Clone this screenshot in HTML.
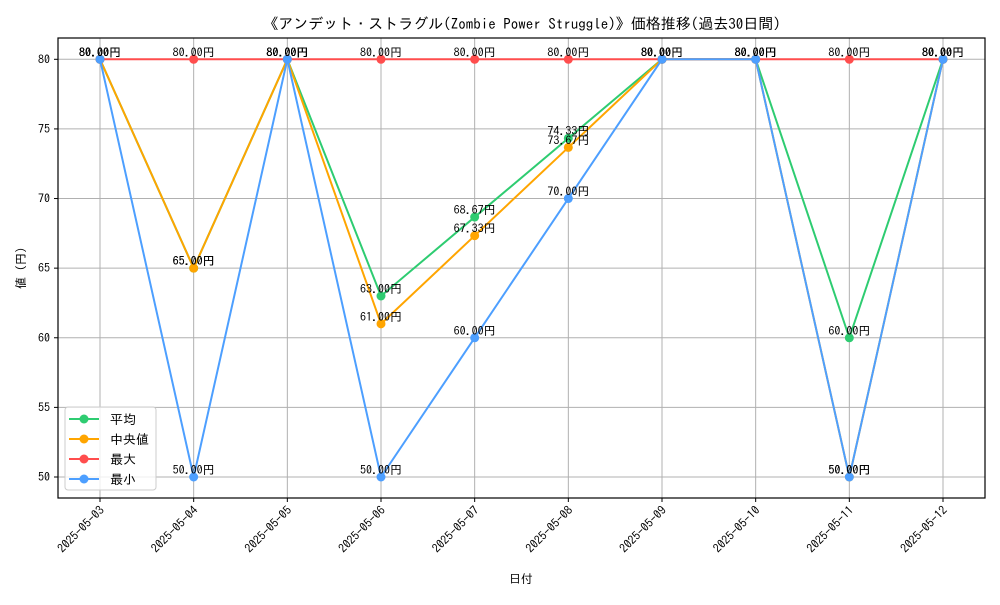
<!DOCTYPE html>
<html><head><meta charset="utf-8"><style>
body{margin:0;background:#fff}
svg text{font-family:"IPAGothic","Liberation Sans","Noto Sans CJK JP",sans-serif}
</style></head><body>
<svg id="chart" width="1000" height="600" xmlns="http://www.w3.org/2000/svg">
<rect width="1000" height="600" fill="#fff"/>
<text x="522" y="29" font-size="15" text-anchor="middle">《アンデット・ストラグル(Zombie Power Struggle)》価格推移(過去30日間)</text>
<g id="grid"></g>
<g id="series"></g>
<g id="labels"></g>
<rect x="58" y="38" width="927" height="460" fill="none" stroke="#000" stroke-width="1.2"/>
<g id="ticks"></g>
<text x="521" y="583" font-size="12" text-anchor="middle">日付</text>
<text transform="translate(25,268) rotate(-90)" font-size="12" text-anchor="middle">値 (円)</text>
<g id="legend"></g>
</svg>
<script>
const categories=["2025-05-03","2025-05-04","2025-05-05","2025-05-06","2025-05-07","2025-05-08","2025-05-09","2025-05-10","2025-05-11","2025-05-12"];
const avgValues=[80,65,80,63,68.67,74.33,80,80,60,80];
const medianValues=[80,65,80,61,67.33,73.67,80,80,50,80];
const maxValues=[80,80,80,80,80,80,80,80,80,80];
const minValues=[80,50,80,50,60,70,80,80,50,80];
const yTicks=[50,55,60,65,70,75,80];
const seriesNames=["平均","中央値","最大","最小"];
const seriesColors=["#2ecc71","#ffa500","#ff4d4d","#4d9fff"];
const seriesData=[avgValues,medianValues,maxValues,minValues];
const NS="http://www.w3.org/2000/svg";
const xS=i=>100+i*(943-100)/(categories.length-1);
const yS=v=>477-(v-50)*(477-59.3)/30;
function mk(tag,attrs,parent){const e=document.createElementNS(NS,tag);for(const k in attrs)e.setAttribute(k,attrs[k]);document.getElementById(parent)?.appendChild(e)||parent.appendChild(e);return e;}
const grid=document.getElementById('grid'),ticks=document.getElementById('ticks');
categories.forEach((c,i)=>{
 const g=mk('line',{x1:xS(i),x2:xS(i),y1:38,y2:498,stroke:'#b0b0b0','stroke-width':1},grid);
 
 
 const t=mk('line',{x1:xS(i),x2:xS(i),y1:498,y2:502,stroke:'#000'},ticks);
 
 
 const l=mk('text',{x:0,y:0,'font-size':12,'text-anchor':'end',transform:`translate(${xS(i)+5},${511}) rotate(-45)`},ticks);
 l.textContent=c;
 
 
});
yTicks.forEach(v=>{
 const g=mk('line',{x1:58,x2:985,y1:yS(v),y2:yS(v),stroke:'#b0b0b0','stroke-width':1},grid);
 
 
 const t=mk('line',{x1:54,x2:58,y1:yS(v),y2:yS(v),stroke:'#000'},ticks);
 
 
 const l=mk('text',{x:50,y:yS(v)+4,'font-size':12,'text-anchor':'end'},ticks);
 l.textContent=v;
 
 
});
const sg=document.getElementById('series'),lg=document.getElementById('labels');
seriesData.forEach((d,s)=>{
 const p=mk('polyline',{points:d.map((v,i)=>xS(i)+','+yS(v)).join(' '),fill:'none',stroke:seriesColors[s],'stroke-width':2},sg);
 
 
 d.forEach((v,i)=>{
  const c=mk('circle',{cx:xS(i),cy:yS(v),r:4.5,fill:seriesColors[s]},sg);
  
  
  const t=mk('text',{x:xS(i),y:yS(v)-3,'font-size':12,'text-anchor':'middle'},lg);
  t.textContent=v.toFixed(2)+'円';
  
  
 });
});
const leg=document.getElementById('legend');
const box=mk('rect',{x:65,y:407,width:91,height:83,fill:'#fff','fill-opacity':0.8,stroke:'#ccc',rx:3},leg);


seriesNames.forEach((n,s)=>{
 const y=419+s*20;
 const l=mk('line',{x1:69,x2:99,y1:y,y2:y,stroke:seriesColors[s],'stroke-width':2},leg);
 
 
 const c=mk('circle',{cx:84,cy:y,r:4.5,fill:seriesColors[s]},leg);
 
 
 const t=mk('text',{x:110,y:y+5,'font-size':13},leg);
 t.textContent=n;
 
 
});
</script>
</body></html>
